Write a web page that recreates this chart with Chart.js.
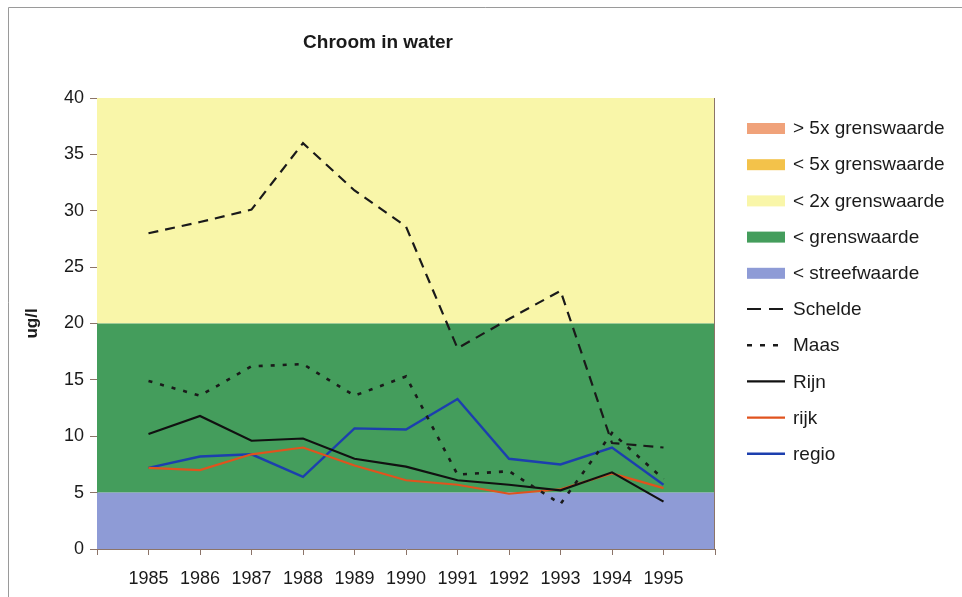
<!DOCTYPE html>
<html>
<head>
<meta charset="utf-8">
<script src="https://cdn.jsdelivr.net/npm/chart.js@4.4.0/dist/chart.umd.min.js"></script>
<style>
html,body{margin:0;padding:0;background:#fff;}
#wrap{width:962px;height:597px;position:relative;}
</style>
</head>
<body>
<div id="wrap"><canvas id="c" width="962" height="597"></canvas></div>
<script>
// ---- data ----
const years = [1985, 1986, 1987, 1988, 1989, 1990, 1991, 1992, 1993, 1994, 1995];
const schelde = [28.0, 29.0, 30.1, 36.0, 31.8, 28.6, 17.8, 20.4, 22.9, 9.4, 9.0];
const maas    = [14.9, 13.6, 16.2, 16.4, 13.6, 15.3, 6.6, 6.9, 4.0, 10.3, 6.2];
const rijn    = [10.2, 11.8, 9.6, 9.8, 8.0, 7.3, 6.1, 5.7, 5.2, 6.8, 4.2];
const rijk    = [7.2, 7.0, 8.4, 9.0, 7.4, 6.1, 5.7, 4.9, 5.3, 6.7, 5.4];
const regio   = [7.2, 8.2, 8.4, 6.4, 10.7, 10.6, 13.3, 8.0, 7.5, 9.0, 5.7];
const seriesNames = ['Schelde', 'Maas', 'Rijn', 'rijk', 'regio'];
const bandNames = ['> 5x grenswaarde', '< 5x grenswaarde', '< 2x grenswaarde', '< grenswaarde', '< streefwaarde'];
const bandLower = [100, 40, 20, 5, 0];
const bandUpper = [1000, 100, 40, 20, 5];
const yTicks = [0, 5, 10, 15, 20, 25, 30, 35, 40];
const titleText = 'Chroom in water';
const yTitle = 'ug/l';

// ---- styles ----
const bandColors = ['#f0a27a', '#f3c24a', '#f9f6a9', '#449d5c', '#8e9bd6'];
const seriesColors = ['#1a1a1a', '#1a1a1a', '#111111', '#e0531e', '#1c3fae'];
const seriesDash = [[10, 7], [4, 8], [], [], []];
const seriesWidth = [2.2, 2.6, 2.2, 2.2, 2.4];
const FONT = '"Liberation Sans", Arial, sans-serif';
const axisColor = '#8c7468';

const datasets = [schelde, maas, rijn, rijk, regio].map((arr, i) => ({
  label: seriesNames[i],
  data: arr.map((v, j) => ({x: years[j], y: v})),
  borderColor: seriesColors[i],
  borderDash: seriesDash[i],
  borderWidth: seriesWidth[i],
  pointRadius: 0,
  tension: 0,
  fill: false
}));

const bandsPlugin = {
  id: 'bands',
  beforeDatasetsDraw(chart) {
    const {ctx, chartArea: a, scales: {y}} = chart;
    ctx.save();
    ctx.beginPath();
    ctx.rect(a.left, a.top, a.right - a.left, a.bottom - a.top);
    ctx.clip();
    for (let i = 0; i < bandNames.length; i++) {
      const top = y.getPixelForValue(bandUpper[i]);
      const bot = y.getPixelForValue(bandLower[i]);
      ctx.fillStyle = bandColors[i];
      ctx.fillRect(a.left, top, a.right - a.left, bot - top);
    }
    ctx.restore();
  }
};

const decoPlugin = {
  id: 'deco',
  afterDraw(chart) {
    const {ctx, chartArea: a} = chart;
    ctx.save();
    // outer frame
    ctx.strokeStyle = '#9a9a9a';
    ctx.lineWidth = 1;
    ctx.beginPath();
    ctx.moveTo(8.5, 620); ctx.lineTo(8.5, 7.5); ctx.lineTo(990, 7.5);
    ctx.stroke();
    // right edge of plot
    ctx.strokeStyle = axisColor;
    ctx.beginPath();
    ctx.moveTo(a.right - 0.5, a.top); ctx.lineTo(a.right - 0.5, a.bottom);
    ctx.stroke();
    // title
    ctx.fillStyle = '#1a1a1a';
    ctx.font = 'bold 19px ' + FONT;
    ctx.textAlign = 'center';
    ctx.textBaseline = 'middle';
    ctx.fillText(titleText, 378, 43);
    // legend
    const names = bandNames.concat(seriesNames);
    const x0 = 747, x1 = 785, tx = 793, y0 = 128, dy = 36.2;
    ctx.font = '19px ' + FONT;
    ctx.textAlign = 'left';
    names.forEach((n, i) => {
      const yy = y0 + i * dy;
      if (i < bandNames.length) {
        ctx.fillStyle = bandColors[i];
        ctx.fillRect(x0, yy - 5, x1 - x0, 11);
      } else {
        const k = i - bandNames.length;
        ctx.strokeStyle = seriesColors[k];
        ctx.lineWidth = seriesWidth[k];
        ctx.setLineDash(k === 0 ? [14, 8] : (k === 1 ? [5, 8] : []));
        ctx.beginPath();
        ctx.moveTo(x0, yy); ctx.lineTo(x1, yy);
        ctx.stroke();
        ctx.setLineDash([]);
      }
      ctx.fillStyle = '#1a1a1a';
      ctx.fillText(n, tx, yy + 1);
    });
    ctx.restore();
  }
};

new Chart(document.getElementById('c'), {
  type: 'line',
  data: {datasets},
  options: {
    responsive: false,
    animation: false,
    layout: {padding: {left: 22, top: 98, right: 247, bottom: 0}},
    plugins: {legend: {display: false}, tooltip: {enabled: false}, title: {display: false}},
    scales: {
      x: {
        type: 'linear',
        min: years[0] - 1,
        max: years[years.length - 1] + 1,
        afterFit(s) { s.height = 48; },
        grid: {drawOnChartArea: false, drawTicks: true, tickLength: 6, color: axisColor},
        border: {color: axisColor, width: 1},
        ticks: {
          stepSize: 1,
          autoSkip: false,
          maxRotation: 0,
          padding: 13,
          color: '#1a1a1a',
          font: {family: FONT, size: 18},
          callback: (v) => years.includes(v) ? String(v) : ''
        }
      },
      y: {
        min: yTicks[0],
        max: yTicks[yTicks.length - 1],
        afterFit(s) { s.width = 75; },
        afterBuildTicks(s) { s.ticks = yTicks.map(v => ({value: v})); },
        grid: {drawOnChartArea: false, drawTicks: true, tickLength: 7, color: axisColor},
        border: {color: axisColor, width: 1},
        title: {display: true, text: yTitle, color: '#1a1a1a', font: {family: FONT, size: 17, weight: 'bold'}, padding: 0},
        ticks: {
          padding: 6,
          color: '#1a1a1a',
          font: {family: FONT, size: 18}
        }
      }
    }
  },
  plugins: [bandsPlugin, decoPlugin]
});
</script>
</body>
</html>
